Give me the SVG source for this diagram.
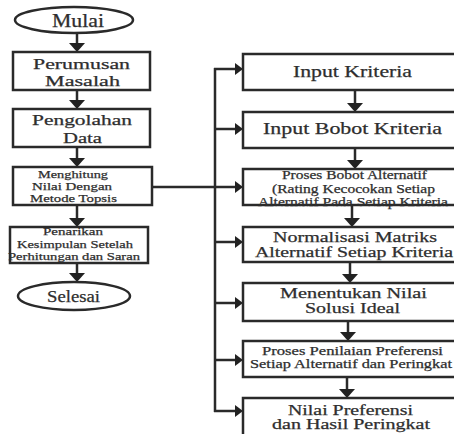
<svg xmlns="http://www.w3.org/2000/svg" width="454" height="434" viewBox="0 0 454 434">
<style>
.bx{fill:#fff;stroke:#2a2a2a;stroke-width:2.5}
.ln{fill:none;stroke:#2a2a2a;stroke-width:2.5}
.t{font-family:"Liberation Serif","Times New Roman",serif;fill:#2e2e2e;stroke:#2e2e2e;stroke-width:0.25}
.big{font-size:17px}
.med{font-size:15px}
.sm{font-size:12px}
.xs{font-size:11px}
</style>
<defs>
<marker id="dn" viewBox="0 0 9 16" refX="5" refY="8" markerWidth="9" markerHeight="16" orient="auto" markerUnits="userSpaceOnUse"><path d="M0,0 L9,8 L0,16 z" fill="#222"/></marker>
<marker id="rt" viewBox="0 0 8 12" refX="4" refY="6" markerWidth="8" markerHeight="12" orient="auto" markerUnits="userSpaceOnUse"><path d="M0,0 L8,6 L0,12 z" fill="#222"/></marker>
</defs>
<rect width="454" height="434" fill="#fff"/>
<g id="connectors">
<line class="ln" x1="77" y1="33" x2="77" y2="48" marker-end="url(#dn)"/>
<line class="ln" x1="77" y1="90" x2="77" y2="105" marker-end="url(#dn)"/>
<line class="ln" x1="77" y1="147" x2="77" y2="163" marker-end="url(#dn)"/>
<line class="ln" x1="77" y1="205" x2="77" y2="223" marker-end="url(#dn)"/>
<line class="ln" x1="77" y1="263" x2="77" y2="278" marker-end="url(#dn)"/>
<line class="ln" x1="152" y1="187" x2="215" y2="187"/>
<line class="ln" x1="215" y1="68" x2="215" y2="412"/>
<line class="ln" x1="214" y1="69" x2="239" y2="69" marker-end="url(#rt)"/>
<line class="ln" x1="215" y1="129" x2="239" y2="129" marker-end="url(#rt)"/>
<line class="ln" x1="215" y1="187" x2="239" y2="187" marker-end="url(#rt)"/>
<line class="ln" x1="215" y1="242" x2="239" y2="242" marker-end="url(#rt)"/>
<line class="ln" x1="215" y1="303" x2="239" y2="303" marker-end="url(#rt)"/>
<line class="ln" x1="215" y1="360" x2="239" y2="360" marker-end="url(#rt)"/>
<line class="ln" x1="214" y1="411" x2="239" y2="411" marker-end="url(#rt)"/>
<line class="ln" x1="355" y1="90" x2="355" y2="108" marker-end="url(#dn)"/>
<line class="ln" x1="355" y1="148" x2="355" y2="165" marker-end="url(#dn)"/>
<line class="ln" x1="352" y1="205" x2="352" y2="223" marker-end="url(#dn)"/>
<line class="ln" x1="350" y1="262" x2="350" y2="279" marker-end="url(#dn)"/>
<line class="ln" x1="348" y1="321" x2="348" y2="337" marker-end="url(#dn)"/>
<line class="ln" x1="347" y1="377" x2="347" y2="394" marker-end="url(#dn)"/>
</g>
<g id="mulai">
<ellipse class="bx" cx="74" cy="20" rx="59" ry="13"/>
<text class="t" x="52" y="27" font-size="18" textLength="52" lengthAdjust="spacingAndGlyphs">Mulai</text>
</g>
<g id="perumusan">
<rect class="bx" x="13" y="52" width="137" height="38"/>
<text class="t med" x="33" y="69" textLength="97" lengthAdjust="spacingAndGlyphs">Perumusan</text>
<text class="t med" x="45" y="86" textLength="75" lengthAdjust="spacingAndGlyphs">Masalah</text>
</g>
<g id="pengolahan">
<rect class="bx" x="13" y="109" width="137" height="38"/>
<text class="t med" x="32" y="125" textLength="100" lengthAdjust="spacingAndGlyphs">Pengolahan</text>
<text class="t med" x="63" y="143" textLength="39" lengthAdjust="spacingAndGlyphs">Data</text>
</g>
<g id="menghitung">
<rect class="bx" x="13" y="167" width="139" height="38"/>
<text class="t xs" x="38" y="178" textLength="70" lengthAdjust="spacingAndGlyphs">Menghitung</text>
<text class="t xs" x="32" y="190" textLength="80" lengthAdjust="spacingAndGlyphs">Nilai Dengan</text>
<text class="t xs" x="30" y="202" textLength="87" lengthAdjust="spacingAndGlyphs">Metode Topsis</text>
</g>
<g id="penarikan">
<rect class="bx" x="10" y="227" width="138" height="36"/>
<text class="t xs" x="43" y="235" textLength="60" lengthAdjust="spacingAndGlyphs">Penarikan</text>
<text class="t xs" x="17" y="248" textLength="116" lengthAdjust="spacingAndGlyphs">Kesimpulan Setelah</text>
<text class="t xs" x="8" y="260" textLength="132" lengthAdjust="spacingAndGlyphs">Perhitungan dan Saran</text>
</g>
<g id="selesai">
<ellipse class="bx" cx="74" cy="296" rx="56" ry="14"/>
<text class="t" x="47" y="302" font-size="17" textLength="53" lengthAdjust="spacingAndGlyphs">Selesai</text>
</g>
<g id="input-kriteria">
<rect class="bx" x="243" y="54" width="230" height="36"/>
<text class="t big" x="293" y="77" textLength="119" lengthAdjust="spacingAndGlyphs">Input Kriteria</text>
</g>
<g id="input-bobot">
<rect class="bx" x="243" y="112" width="230" height="36"/>
<text class="t big" x="263" y="134" textLength="179" lengthAdjust="spacingAndGlyphs">Input Bobot Kriteria</text>
</g>
<g id="proses-bobot">
<rect class="bx" x="243" y="169" width="230" height="36"/>
<text class="t sm" x="282" y="179" textLength="145" lengthAdjust="spacingAndGlyphs">Proses Bobot Alternatif</text>
<text class="t sm" x="272" y="193" textLength="163" lengthAdjust="spacingAndGlyphs">(Rating Kecocokan Setiap</text>
<text class="t sm" x="258" y="206" textLength="190" lengthAdjust="spacingAndGlyphs">Alternatif Pada Setiap Kriteria</text>
</g>
<g id="normalisasi">
<rect class="bx" x="243" y="227" width="230" height="35"/>
<text class="t med" x="273" y="242" textLength="164" lengthAdjust="spacingAndGlyphs">Normalisasi Matriks</text>
<text class="t med" x="255" y="257" textLength="198" lengthAdjust="spacingAndGlyphs">Alternatif Setiap Kriteria</text>
</g>
<g id="solusi-ideal">
<rect class="bx" x="243" y="283" width="230" height="38"/>
<text class="t med" x="280" y="298" textLength="147" lengthAdjust="spacingAndGlyphs">Menentukan Nilai</text>
<text class="t med" x="305" y="313" textLength="95" lengthAdjust="spacingAndGlyphs">Solusi Ideal</text>
</g>
<g id="penilaian">
<rect class="bx" x="243" y="341" width="230" height="36"/>
<text class="t sm" x="262" y="355" textLength="181" lengthAdjust="spacingAndGlyphs">Proses Penilaian Preferensi</text>
<text class="t sm" x="250" y="368" textLength="202" lengthAdjust="spacingAndGlyphs">Setiap Alternatif dan Peringkat</text>
</g>
<g id="hasil">
<rect class="bx" x="243" y="398" width="230" height="50"/>
<text class="t" x="288" y="415" font-size="14" textLength="125" lengthAdjust="spacingAndGlyphs">Nilai Preferensi</text>
<text class="t" x="272" y="429" font-size="14" textLength="158" lengthAdjust="spacingAndGlyphs">dan Hasil Peringkat</text>
</g>
</svg>
